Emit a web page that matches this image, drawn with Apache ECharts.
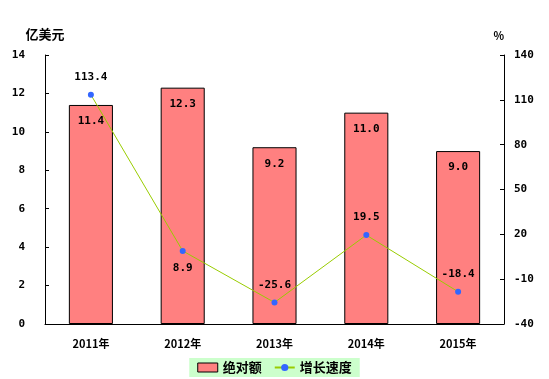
<!DOCTYPE html>
<html><head><meta charset="utf-8">
<script src="https://cdn.jsdelivr.net/npm/echarts@6/dist/echarts.min.js"></script>
<style>html,body{margin:0;padding:0;background:#fff}#c{width:549px;height:379px}</style>
</head><body><div id="c"></div>
<script>
const categories = ['2011年','2012年','2013年','2014年','2015年'];
const absValues = [11.4, 12.3, 9.2, 11.0, 9.0];
const growthValues = [113.4, 8.9, -25.6, 19.5, -18.4];
const leftTicks = [0,2,4,6,8,10,12,14];
const rightTicks = [-40,-10,20,50,80,110,140];
const growthLabelPos = ['top','bottom','top','top','top'];

const font = '"Noto Sans CJK SC", "DejaVu Sans", sans-serif';
const numFont = '"DejaVu Sans Mono", monospace';
const chart = echarts.init(document.getElementById('c'));
chart.setOption({
  animation: false,
  textStyle: {fontFamily: font},
  grid: {left: 45, right: 45, top: 55, bottom: 55},
  legend: {
    bottom: 2, left: 'center',
    backgroundColor: '#ccffcc', padding: [3, 8],
    itemGap: 12, itemWidth: 20, itemHeight: 9,
    textStyle: {fontSize: 13, fontWeight: 'bold', color: '#000', fontFamily: font},
    data: [
      {name: '绝对额', icon: 'rect', itemStyle: {color: '#ff8080', borderColor: '#000', borderWidth: 1}},
      {name: '增长速度'}
    ]
  },
  xAxis: {
    type: 'category', data: categories,
    axisLine: {lineStyle: {color: '#000'}},
    axisTick: {show: false},
    axisLabel: {color: '#000', fontSize: 11, fontWeight: 'bold', margin: 14}
  },
  yAxis: [
    {
      type: 'value', min: 0, max: 14, interval: 2,
      name: '亿美元', nameLocation: 'end', nameGap: 14,
      nameTextStyle: {color: '#000', fontSize: 13, fontWeight: 'bold', align: 'center'},
      axisLine: {show: true, lineStyle: {color: '#000'}},
      axisTick: {show: true, inside: true, length: 4, lineStyle: {color: '#000'}},
      splitLine: {show: false},
      axisLabel: {color: '#000', fontSize: 11, fontWeight: 'bold', margin: 20, fontFamily: numFont,
        customValues: leftTicks}
    },
    {
      type: 'value', min: -40, max: 140, position: 'right',
      name: '%', nameLocation: 'end', nameGap: 14,
      nameTextStyle: {color: '#000', fontSize: 11, fontWeight: 'bold', align: 'right'},
      axisLine: {show: true, lineStyle: {color: '#000'}},
      axisTick: {show: true, inside: true, length: 4, lineStyle: {color: '#000'}, customValues: rightTicks},
      splitLine: {show: false},
      axisLabel: {color: '#000', fontSize: 11, fontWeight: 'bold', margin: 10, fontFamily: numFont, customValues: rightTicks}
    }
  ],
  series: [
    {
      name: '绝对额', type: 'bar', data: absValues, barWidth: '48%',
      itemStyle: {color: '#ff8080', borderColor: '#000', borderWidth: 1},
      label: {show: true, position: 'insideTop', distance: 11, color: '#000',
        fontSize: 11, fontWeight: 'bold', fontFamily: numFont, formatter: p => p.value.toFixed(1)}
    },
    {
      name: '增长速度', type: 'line', yAxisIndex: 1,
      data: growthValues.map((v, i) => ({value: v, label: {position: growthLabelPos[i]}})),
      symbol: 'circle', symbolSize: 6,
      itemStyle: {color: '#3366ff'},
      lineStyle: {color: '#99cc00', width: 1},
      label: {show: true, distance: 9, color: '#000', fontSize: 11, fontWeight: 'bold', fontFamily: numFont,
        formatter: p => p.value.toFixed(1)}
    }
  ]
});
</script></body></html>
